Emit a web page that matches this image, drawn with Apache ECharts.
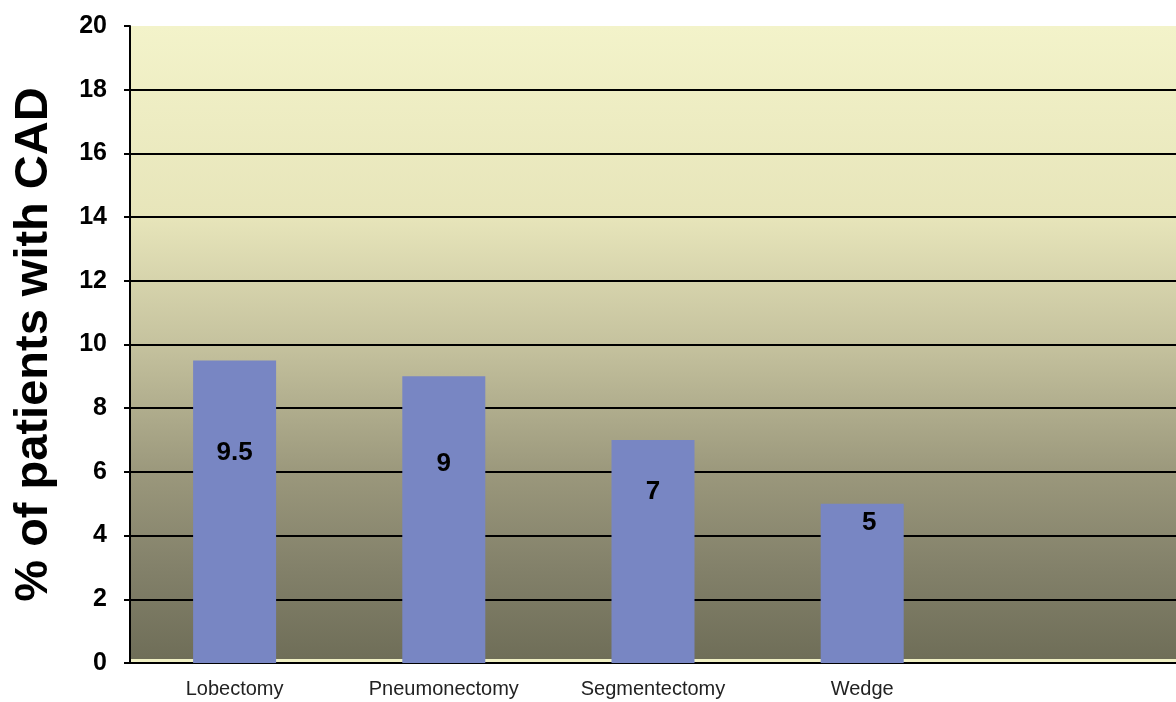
<!DOCTYPE html>
<html>
<head>
<meta charset="utf-8">
<script src="https://cdn.jsdelivr.net/npm/echarts@6/dist/echarts.min.js"></script>
<style>
html,body{margin:0;padding:0;background:#fff;}
#chart{width:1176px;height:702px;}
</style>
</head>
<body>
<div id="chart"></div>
<script>
const categories = ['Lobectomy', 'Pneumonectomy', 'Segmentectomy', 'Wedge', ''];
const values = [9.5, 9, 7, 5, null];
const yTicks = [0, 2, 4, 6, 8, 10, 12, 14, 16, 18, 20];
const yAxisTitle = '% of patients with CAD';

// label vertical offsets from bar top (style only)
const labelOffsets = [92, 87, 52, 19];
const labelShiftX = [0, 0, 0, 7];

const chart = echarts.init(document.getElementById('chart'));
const splitColors = yTicks.map((t, i) => i === yTicks.length - 1 ? 'rgba(0,0,0,0)' : '#000');

chart.setOption({
  animation: false,
  grid: {
    left: 130, right: -4, top: 26, bottom: 39,
    show: true, borderWidth: 0,
    backgroundColor: {
      type: 'linear', x: 0, y: 0, x2: 0, y2: 1,
      colorStops: [
        {offset: 0, color: '#f3f3ca'},
        {offset: 0.3, color: '#e7e5ba'},
        {offset: 0.5, color: '#c5c29e'},
        {offset: 0.7, color: '#9b987c'},
        {offset: 0.85, color: '#83816a'},
        {offset: 0.993, color: '#6f6e58'},
        {offset: 0.994, color: '#f0f0c4'},
        {offset: 1, color: '#f0f0c4'}
      ]
    }
  },
  xAxis: {
    type: 'category',
    data: categories,
    axisLine: {show: true, lineStyle: {color: '#000', width: 2}},
    axisTick: {show: false},
    axisLabel: {color: '#222', fontSize: 20, fontFamily: 'Liberation Sans, Arial', margin: 16}
  },
  yAxis: {
    type: 'value',
    min: 0, max: 20, interval: 2,
    name: yAxisTitle,
    nameLocation: 'middle',
    nameGap: 72,
    nameTextStyle: {color: '#000', fontSize: 47, fontWeight: 'bold', fontFamily: 'Liberation Sans, Arial'},
    axisLine: {show: true, lineStyle: {color: '#000', width: 2}},
    axisTick: {show: true, length: 6, lineStyle: {color: '#000', width: 2}},
    axisLabel: {color: '#000', fontSize: 25, fontWeight: 'bold', fontFamily: 'Liberation Sans, Arial', margin: 23},
    splitLine: {show: true, lineStyle: {color: splitColors, width: 2}}
  },
  series: [{
    type: 'bar',
    barWidth: 83,
    data: values.map((v, i) => ({
      value: v,
      label: {
        show: v != null,
        position: ['50%', labelOffsets[i] || 0],
        offset: [labelShiftX[i] || 0, 0],
        align: 'center',
        verticalAlign: 'middle',
        color: '#000',
        fontSize: 26,
        fontWeight: 'bold',
        fontFamily: 'Liberation Sans, Arial'
      }
    })),
    itemStyle: {color: '#7886c3'}
  }]
});
</script>
</body>
</html>
